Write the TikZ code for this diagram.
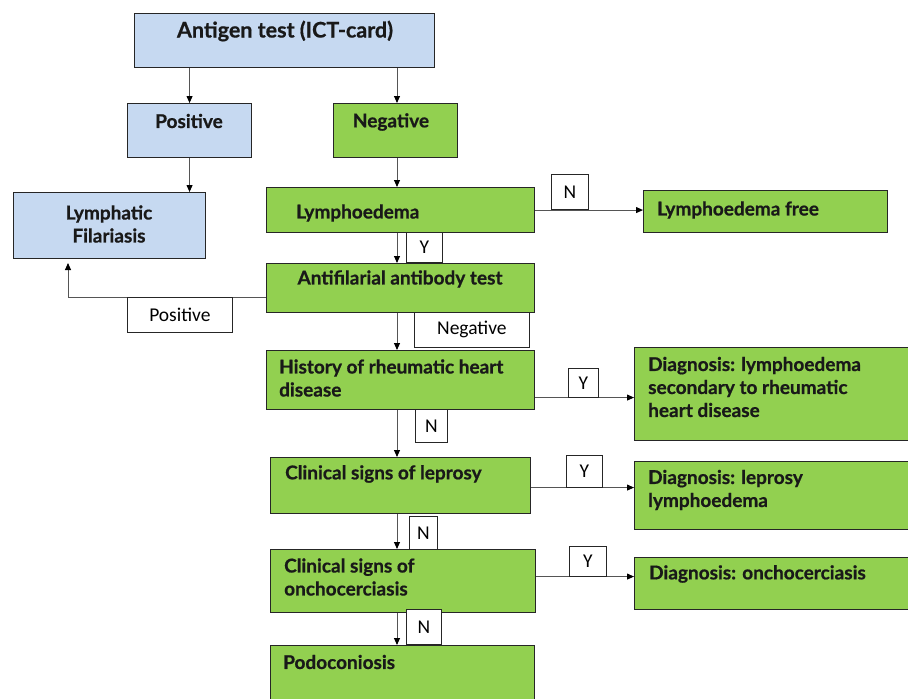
\documentclass[tikz,border=0pt]{standalone}
\usepackage{fontspec}
\usetikzlibrary{arrows.meta,calc}
\newfontfamily\boxfont{Lato}[BoldFeatures={FakeBold=0.7}]
\newfontfamily\lblfont{Carlito}
\definecolor{bluefill}{HTML}{C6D9F1}
\definecolor{greenfill}{HTML}{92D050}
\definecolor{linegray}{HTML}{555555}
\tikzset{
  box/.style={draw=black!85, line width=1.1pt, inner sep=0pt, anchor=north west},
  bluebox/.style={box, fill=bluefill},
  greenbox/.style={box, fill=greenfill},
  txt/.style={font=\boxfont\bfseries\fontsize{19}{23}\selectfont, inner sep=0pt, align=left, text=black!90},
  lbl/.style={draw=black!85, line width=0.8pt, fill=white, font=\lblfont\fontsize{19.5}{21}\selectfont, inner sep=0pt, anchor=north west},
  arr/.style={draw=linegray, line width=0.9pt, -{Triangle[length=7pt,width=6pt,color=black]}}
}
\newcommand{\bx}[6]{\node[#6, minimum width={(#4-#2)*1pt}, minimum height={(#5-#3)*1pt}] (#1) at (#2,#3) {};}
\newcommand{\lb}[6]{\node[lbl, minimum width={(#4-#2)*1pt}, minimum height={(#5-#3)*1pt}] (#1) at (#2,#3) {#6};}
\begin{document}
\begin{tikzpicture}[x=1pt,y=-1pt]
\useasboundingbox (0,0) rectangle (908,699);
% boxes
\bx{ant}{134}{13}{434}{67}{bluebox}
\bx{pos}{127}{103}{251}{157}{bluebox}
\bx{neg}{333}{103}{457}{157}{greenbox}
\bx{lf}{13}{192}{205}{258}{bluebox}
\bx{lym}{266}{187}{534}{232}{greenbox}
\bx{free}{643}{190}{887}{232}{greenbox}
\bx{anti}{266}{263}{534}{312}{greenbox}
\bx{hist}{266}{350}{534}{409}{greenbox}
\bx{dA}{634}{347}{910}{440}{greenbox}
\bx{lep}{270}{457}{530}{513}{greenbox}
\bx{dB}{634}{461}{910}{529}{greenbox}
\bx{onc}{270}{549}{535}{612}{greenbox}
\bx{dC}{634}{557}{910}{609}{greenbox}
\bx{pod}{270}{645}{534}{705}{greenbox}
% texts
\node[txt, font=\boxfont\bfseries\fontsize{21.5}{23}\selectfont] (tant) at (285,31) {Antigen test (ICT-card)};
\node[txt] (tpos) at (189,121) {Positive};
\node[txt] (tneg) at (391,122) {Negative};
\node[txt, align=center] (tlf) at (109,224) {Lymphatic\\Filariasis};
\node[txt, anchor=west] (tlym) at (296,213) {Lymphoedema};
\node[txt, anchor=west] (tfree) at (657,210) {Lymphoedema free};
\node[txt] (tanti) at (400,279) {Antifilarial antibody test};
\node[txt, anchor=west] (thist) at (279,378) {History of rheumatic heart\\disease};
\node[txt, anchor=west] (tdA) at (648,387) {Diagnosis: lymphoedema\\secondary to rheumatic\\heart disease};
\node[txt, anchor=west] (tlep) at (285,474) {Clinical signs of leprosy};
\node[txt, anchor=west] (tdB) at (648,490) {Diagnosis: leprosy\\lymphoedema};
\node[txt, anchor=west] (tonc) at (284,577) {Clinical signs of\\onchocerciasis};
\node[txt, anchor=west] (tdC) at (649,574) {Diagnosis: onchocerciasis};
\node[txt, anchor=west] (tpod) at (283,662) {Podoconiosis};
% helper coordinates
\coordinate (sp) at (397,0);
\coordinate (upend) at (68,263);
% arrows
\draw[arr] (ant.south -| pos.north) -- (pos.north);
\draw[arr] (ant.south -| sp) -- (neg.north -| sp);
\draw[arr] (pos.south) -- (lf.north -| pos.south);
\draw[arr] (neg.south -| sp) -- (lym.north -| sp);
\draw[arr] (lym.south -| sp) -- (anti.north -| sp);
\draw[arr] (anti.south -| sp) -- (hist.north -| sp);
\draw[arr] (hist.south -| sp) -- (lep.north -| sp);
\draw[arr] (lep.south -| sp) -- (onc.north -| sp);
\draw[arr] (onc.south -| sp) -- (pod.north -| sp);
\draw[arr] (lym.east) -- (lym.east -| free.west);
\draw[arr] ($(anti.west)+(0,9.5)$) -| (upend);
\draw[arr] ($(hist.east)+(0,17.5)$) -- ($(hist.east -| dA.west)+(0,17.5)$);
\draw[arr] ($(lep.east)+(0,2)$) -- ($(lep.east -| dB.west)+(0,2)$);
\draw[arr] ($(onc.east)+(0,-4.5)$) -- ($(onc.east -| dC.west)+(0,-4.5)$);
% labels
\lb{lN1}{551}{174}{588}{209}{N}
\lb{lY1}{406}{232}{442}{262}{Y}
\lb{lPos}{127}{297}{232}{332}{Positive}
\lb{lNeg}{414}{312}{529}{347}{Negative}
\lb{lY2}{568}{368}{598}{397}{Y}
\lb{lN2}{415}{409}{447}{442}{N}
\lb{lY3}{566}{455}{602}{487}{Y}
\lb{lN3}{409}{516}{437}{549}{N}
\lb{lY4}{569}{546}{606}{576}{Y}
\lb{lN4}{406}{609}{441}{644}{N}
\end{tikzpicture}
\end{document}
